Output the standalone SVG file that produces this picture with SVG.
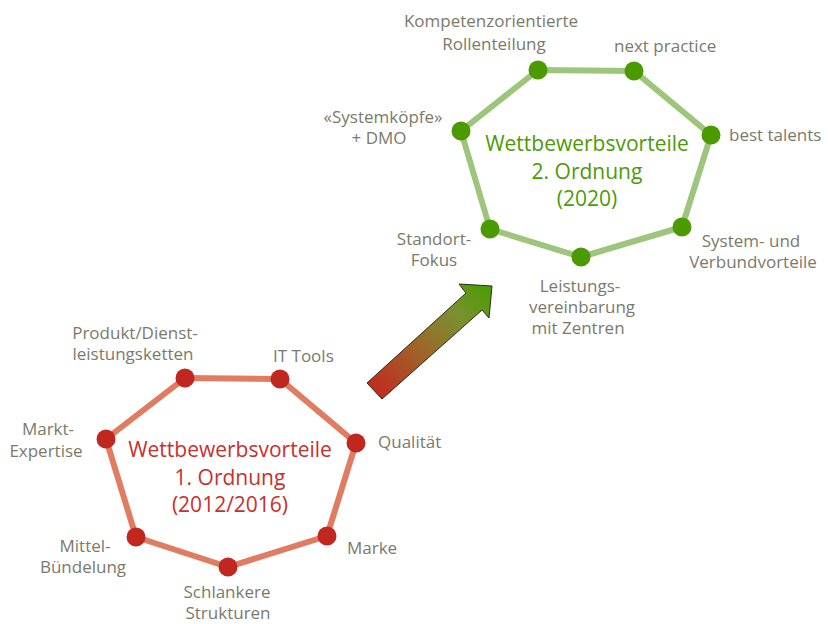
<svg xmlns="http://www.w3.org/2000/svg" width="828" height="624" viewBox="0 0 828 624">
<defs>
<linearGradient id="arrowGrad" gradientUnits="userSpaceOnUse" x1="372" y1="392" x2="488" y2="292">
<stop offset="0" stop-color="#C4281F"/>
<stop offset="0.45" stop-color="#9A6A2A"/>
<stop offset="0.75" stop-color="#7A9030"/>
<stop offset="1" stop-color="#4E9C06"/>
</linearGradient>
<style>
.lbl{font-family:"Open Sans","Liberation Sans",sans-serif;font-size:17px;fill:#7A7A6A;}
.mid{text-anchor:middle;}
.ctr{font-family:"Open Sans","Liberation Sans",sans-serif;font-size:21px;text-anchor:middle;}
.redT{fill:#C8302C;}
.grnT{fill:#4E9A06;}
.redRing{fill:none;stroke:#E07C62;stroke-width:6;stroke-linejoin:round;}
.grnRing{fill:none;stroke:#9DC57C;stroke-width:6;stroke-linejoin:round;}
.rdot{fill:#C0281F;}
.gdot{fill:#4A9A00;}
</style>
</defs>
<rect width="828" height="624" fill="#FFFFFF"/>

<g id="connectors">
<polygon id="ring1" class="redRing" points="185,378 280,379 356,443 327,536 228,567 136,537 106,439"/>
<polygon id="ring2" class="grnRing" points="538,70 634,71 711,135 682,227 581,257 490,229 461,131"/>
<polygon id="arrow" points="367,383 466,293 459,284 492,286 489,318 482,310 382,399" fill="url(#arrowGrad)" stroke="#2A2A1A" stroke-width="1"/>
</g>

<g id="center1">
<text class="ctr redT" x="230" y="457">Wettbewerbsvorteile</text>
<text class="ctr redT" x="230" y="485">1. Ordnung</text>
<text class="ctr redT" x="230" y="512">(2012/2016)</text>
</g>
<g id="center2">
<text class="ctr grnT" x="587" y="151">Wettbewerbsvorteile</text>
<text class="ctr grnT" x="587" y="179">2. Ordnung</text>
<text class="ctr grnT" x="587" y="206">(2020)</text>
</g>

<g id="n-produkt"><circle class="rdot" cx="185" cy="378" r="9.5"/>
<text class="lbl mid" x="135" y="339">Produkt/Dienst-</text><text class="lbl mid" x="133" y="360">leistungsketten</text></g>
<g id="n-ittools"><circle class="rdot" cx="280" cy="379" r="9.5"/>
<text class="lbl" x="273" y="362">IT Tools</text></g>
<g id="n-qualitaet"><circle class="rdot" cx="356" cy="443" r="9.5"/>
<text class="lbl" x="378" y="448">Qualität</text></g>
<g id="n-marke"><circle class="rdot" cx="327" cy="536" r="9.5"/>
<text class="lbl" x="347" y="554">Marke</text></g>
<g id="n-schlank"><circle class="rdot" cx="228" cy="567" r="9.5"/>
<text class="lbl mid" x="227" y="598">Schlankere</text><text class="lbl mid" x="228" y="619">Strukturen</text></g>
<g id="n-mittel"><circle class="rdot" cx="136" cy="537" r="9.5"/>
<text class="lbl mid" x="85" y="552">Mittel-</text><text class="lbl mid" x="83" y="573">Bündelung</text></g>
<g id="n-markt"><circle class="rdot" cx="106" cy="439" r="9.5"/>
<text class="lbl mid" x="48" y="435">Markt-</text><text class="lbl mid" x="46" y="457">Expertise</text></g>

<g id="n-kompetenz"><circle class="gdot" cx="538" cy="70" r="9.5"/>
<text class="lbl mid" x="491" y="27">Kompetenzorientierte</text><text class="lbl mid" x="494" y="50">Rollenteilung</text></g>
<g id="n-next"><circle class="gdot" cx="634" cy="71" r="9.5"/>
<text class="lbl" x="614" y="52">next practice</text></g>
<g id="n-talents"><circle class="gdot" cx="711" cy="135" r="9.5"/>
<text class="lbl" x="729" y="141">best talents</text></g>
<g id="n-system"><circle class="gdot" cx="682" cy="227" r="9.5"/>
<text class="lbl mid" x="751" y="247">System- und</text><text class="lbl mid" x="753" y="268">Verbundvorteile</text></g>
<g id="n-leistung"><circle class="gdot" cx="581" cy="257" r="9.5"/>
<text class="lbl mid" x="580" y="292">Leistungs-</text><text class="lbl mid" x="582" y="313">vereinbarung</text><text class="lbl mid" x="578" y="334">mit Zentren</text></g>
<g id="n-standort"><circle class="gdot" cx="490" cy="229" r="9.5"/>
<text class="lbl mid" x="434" y="245">Standort-</text><text class="lbl mid" x="434" y="266">Fokus</text></g>
<g id="n-systemkoepfe"><circle class="gdot" cx="461" cy="131" r="9.5"/>
<text class="lbl mid" x="383" y="123">«Systemköpfe»</text><text class="lbl mid" x="379" y="144">+ DMO</text></g>
</svg>
